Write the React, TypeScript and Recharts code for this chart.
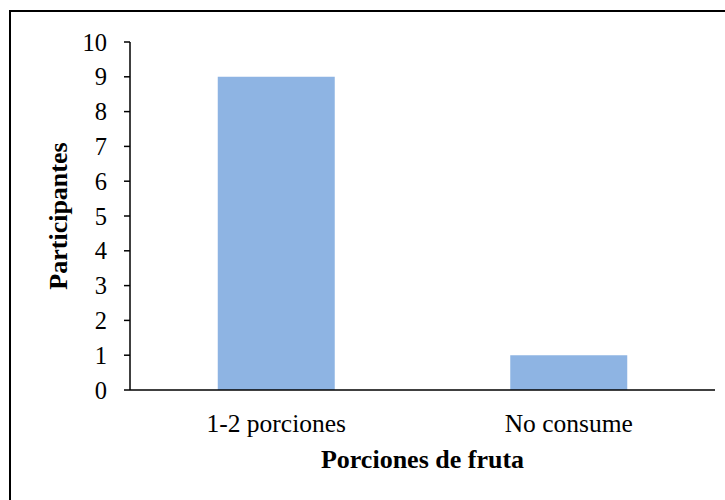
import { Bar, BarChart, Label, XAxis, YAxis } from "recharts"

const categories = ["1-2 porciones", "No consume"]
const participantes = [9, 1]
const yTicks = [0, 1, 2, 3, 4, 5, 6, 7, 8, 9, 10]

const data = categories.map((c, i) => ({ categoria: c, participantes: participantes[i] }))

const serif = "'Liberation Serif', 'Times New Roman', serif"

function YTitle(props: any) {
  const vb = props.viewBox || { x: 0, y: 0, width: 0, height: 0 }
  const cx = vb.x + 58
  const cy = vb.y + vb.height / 2
  return (
    <text
      x={cx}
      y={cy}
      transform={`rotate(-90 ${cx} ${cy})`}
      textAnchor="middle"
      dominantBaseline="central"
      fontFamily={serif}
      fontWeight="bold"
      fontSize={26}
      fill="#000"
    >
      Participantes
    </text>
  )
}

export default function App() {
  return (
    <div style={{ position: "fixed", left: 0, top: 0, width: 725, height: 500, overflow: "hidden", background: "#fff" }}>
      <div
        style={{
          position: "absolute",
          left: 9,
          top: 10,
          width: 760,
          height: 540,
          border: "2px solid #000",
        }}
      />
      <div style={{ position: "absolute", left: 0, top: 0 }}>
        <BarChart
          width={725}
          height={500}
          data={data}
          margin={{ top: 42, right: 10, bottom: 30, left: 0 }}
          barCategoryGap="30%"
        >
          <XAxis
            dataKey="categoria"
            height={80}
            tickLine={false}
            tickSize={0}
            tickMargin={24}
            axisLine={{ stroke: "#000", strokeWidth: 1.5 }}
            tick={{ fill: "#000", fontFamily: serif, fontSize: 25.5 }}
          >
            <Label
              value="Porciones de fruta"
              position="insideBottom"
              offset={2}
              fill="#000"
              fontFamily={serif}
              fontWeight="bold"
              fontSize={26}
            />
          </XAxis>
          <YAxis
            width={130}
            domain={[0, 10]}
            ticks={yTicks}
            interval={0}
            tickSize={6}
            tickMargin={17}
            axisLine={{ stroke: "#000", strokeWidth: 1.5 }}
            tickLine={{ stroke: "#000", strokeWidth: 1.5 }}
            tick={{ fill: "#000", fontFamily: serif, fontSize: 24.5 }}
          >
            <Label content={<YTitle />} />
          </YAxis>
          <Bar dataKey="participantes" fill="#8EB4E3" isAnimationActive={false} />
        </BarChart>
      </div>
    </div>
  )
}
